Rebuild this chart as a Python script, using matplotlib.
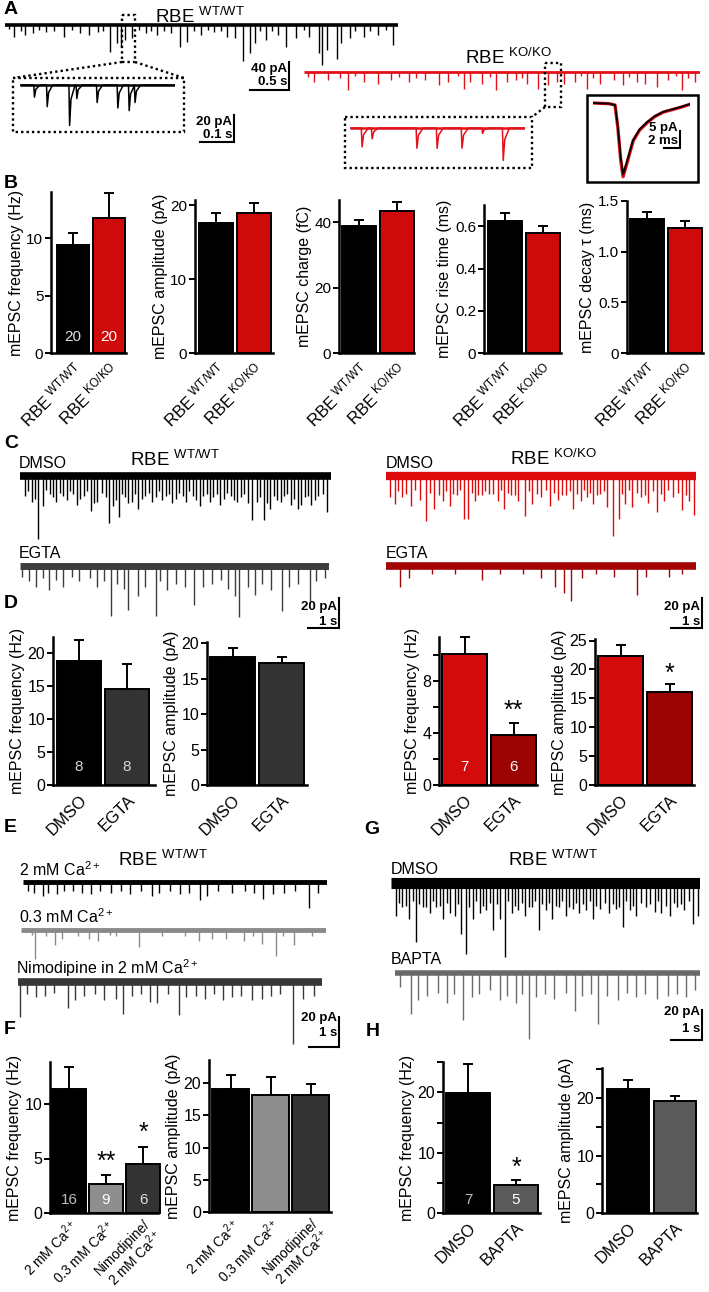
import numpy as np
import matplotlib
matplotlib.use("Agg")
import matplotlib.pyplot as plt
from matplotlib.patches import Rectangle

plt.rcParams['font.family'] = ['Liberation Sans', 'DejaVu Sans']
plt.rcParams['mathtext.fontset'] = 'custom'
plt.rcParams['mathtext.rm'] = 'Liberation Sans'
plt.rcParams['mathtext.it'] = 'Liberation Sans:italic'
plt.rcParams['mathtext.bf'] = 'Liberation Sans:bold'

# ---------------------------------------------------------------- data
WT = r"RBE $^{\mathregular{WT/WT}}$"
KO = r"RBE $^{\mathregular{KO/KO}}$"
CA = r"Ca$^{\mathregular{2+}}$"

geno_labels = [WT, KO]
drug_labels = ["DMSO", "EGTA"]
bapta_labels = ["DMSO", "BAPTA"]
ca_labels = ["2 mM " + CA, "0.3 mM " + CA, "Nimodipine/\n2 mM " + CA]

# B
b_freq = [9.4, 11.7];      b_freq_err = [1.0, 2.2]
b_amp = [17.6, 18.9];      b_amp_err = [1.3, 1.4]
b_charge = [38.8, 43.5];   b_charge_err = [1.9, 2.6]
b_rise = [0.627, 0.567];   b_rise_err = [0.036, 0.035]
b_decay = [1.32, 1.23];    b_decay_err = [0.07, 0.07]
b_n = [20, 20]
# D
d_wt_freq = [18.8, 14.5];  d_wt_freq_err = [3.1, 3.8]
d_wt_amp = [18.1, 17.2];   d_wt_amp_err = [1.25, 0.85]
d_ko_freq = [10.1, 3.85];  d_ko_freq_err = [1.3, 0.95]
d_ko_amp = [22.3, 16.1];   d_ko_amp_err = [1.85, 1.35]
d_wt_n = [8, 8]
d_ko_n = [7, 6]
# F
f_freq = [11.4, 2.7, 4.5]; f_freq_err = [2.0, 0.75, 1.55]
f_amp = [19.1, 18.2, 18.2]; f_amp_err = [2.1, 2.8, 1.6]
f_n = [16, 9, 6]
# H
h_freq = [19.9, 4.7];      h_freq_err = [4.8, 0.8]
h_amp = [21.6, 19.5];      h_amp_err = [1.5, 0.9]
h_n = [7, 5]

# traces: event times (s) and amplitudes (pA)
a_wt_t = [0.12, 0.26, 0.35, 0.52, 0.75, 0.95, 1.07, 1.18, 1.33, 1.43, 1.47, 1.53, 1.62, 1.79, 1.94,
          2.11, 2.23, 2.31, 2.49, 2.66, 2.83, 2.92, 3.03, 3.12, 3.18, 3.32, 3.47, 3.58, 3.70, 3.87,
          3.99, 4.03, 4.10, 4.22, 4.28, 4.39, 4.57, 4.74, 4.94,
          0.05, 0.20, 0.43, 0.62, 0.85, 1.25, 1.70, 1.86, 2.02, 2.40, 2.58, 2.75, 3.25, 3.40, 3.80,
          4.45, 4.65, 4.85]
a_wt_amp = [17, 14, 12, 10, 17, 12, 14, 10, 38, 26, 31, 21, 19, 12, 14,
            12, 31, 24, 14, 10, 17, 19, 52, 40, 26, 21, 14, 31, 19, 17,
            40, 57, 36, 48, 26, 19, 17, 14, 29,
            6, 8, 7, 9, 7, 8, 7, 8, 9, 8, 7, 9, 8, 9, 7,
            8, 9, 7]
a_ko_t = [0.13, 0.30, 0.56, 0.76, 0.93, 1.10, 1.33, 1.53, 1.70, 1.82, 2.02, 2.10, 2.25, 2.42, 2.56,
          2.68, 2.82, 2.96, 3.08, 3.19, 3.28, 3.42, 3.57, 3.74, 3.91, 4.03, 4.20, 4.31, 4.46, 4.60,
          4.77, 4.94,
          0.05, 0.45, 0.65, 1.20, 1.42, 1.95, 2.35, 2.75, 3.50, 3.65, 4.10, 4.70, 4.85]
a_ko_amp = [14, 12, 26, 14, 17, 12, 14, 12, 19, 14, 24, 14, 17, 26, 14,
            12, 17, 24, 19, 14, 17, 14, 24, 17, 12, 19, 14, 17, 21, 12,
            26, 14,
            7, 8, 6, 7, 8, 6, 7, 8, 6, 8, 7, 6, 8]
a_wt_zoom_t = [0.040, 0.077, 0.142, 0.163, 0.222, 0.282, 0.315, 0.332]
a_wt_zoom_amp = [9, 16, 30, 10, 13, 17, 19, 13]
a_ko_zoom_t = [0.029, 0.055, 0.170, 0.222, 0.286, 0.339, 0.392]
a_ko_zoom_amp = [14, 8, 15, 15, 15, 4, 24]
# averaged mEPSC (ms, pA)
avg_t = [0, 2.0, 2.75, 3.1, 3.45, 3.75, 4.2, 5.0, 5.8, 6.75, 7.7, 8.75, 10.9, 12.1]
avg_wt = [0, -0.2, -0.6, -7.0, -16.0, -21.0, -17.5, -10.9, -7.8, -5.6, -3.9, -2.6, -1.2, -0.3]
avg_ko = [0, -0.2, -0.6, -7.3, -16.6, -21.7, -18.0, -11.2, -8.0, -5.8, -4.0, -2.7, -1.3, -0.4]

c_wt_dmso_t = [0.15, 0.37, 0.59, 0.73, 0.95, 1.17, 1.39, 1.61, 1.83, 2.05, 2.27, 2.49, 2.64, 2.86, 3.00,
               3.18, 3.37, 3.59, 3.81, 4.03, 4.25, 4.47, 4.69, 4.90, 5.12, 5.34, 5.56, 5.78, 6.00, 6.22,
               6.44, 6.66, 6.88, 7.10, 7.32, 7.47, 7.61, 7.83, 8.05, 8.27, 8.49, 8.71, 8.93, 9.15, 9.37,
               9.59, 9.88,
               0.26, 0.48, 0.84, 1.06, 1.28, 1.50, 1.72, 1.94, 2.16, 2.38, 2.75, 3.09, 3.27, 3.48, 3.70,
               3.92, 4.14, 4.36, 4.58, 4.80, 5.01, 5.23, 5.45, 5.67, 5.89, 6.11, 6.33, 6.55, 6.77, 6.99,
               7.21, 7.72, 7.94, 8.16, 8.38, 8.60, 8.82, 9.04, 9.26, 9.48, 9.73]
c_wt_dmso_amp = [13, 17, 42, 20, 12, 17, 13, 10, 19, 13, 23, 17, 11, 31, 20,
                 27, 14, 17, 22, 13, 17, 10, 13, 18, 11, 17, 13, 20, 12, 14,
                 19, 11, 16, 14, 18, 29, 17, 29, 22, 16, 13, 19, 22, 14, 19,
                 13, 24,
                 10, 15, 9, 14, 11, 16, 12, 15, 10, 18, 14, 16, 12, 18, 12,
                 15, 11, 14, 16, 12, 15, 13, 10, 16, 13, 17, 12, 15, 13, 17,
                 12, 14, 18, 13, 17, 12, 15, 19, 13, 16, 12]
c_wt_egta_t = [0.07, 0.29, 0.51, 0.73, 0.95, 1.17, 1.39, 1.68, 1.90, 2.27, 2.49, 2.71, 2.93, 3.15, 3.37,
               3.51, 3.81, 4.03, 4.39, 4.54, 4.76, 5.05, 5.34, 5.64, 5.93, 6.22, 6.52, 6.73, 6.95, 7.10,
               7.39, 7.61, 7.83, 8.13, 8.49, 8.71, 9.00, 9.37, 9.59, 9.88]
c_wt_egta_amp = [7, 10, 14, 8, 16, 9, 14, 7, 10, 8, 14, 10, 33, 12, 15,
                 29, 20, 14, 33, 10, 16, 12, 14, 26, 14, 12, 9, 15, 20, 34,
                 14, 19, 12, 16, 30, 14, 12, 23, 10, 8]
c_ko_dmso_t = [0.12, 0.29, 0.51, 0.81, 1.10, 1.29, 1.54, 1.84, 2.06, 2.28, 2.50, 2.65, 2.87, 3.09, 3.31,
               3.60, 3.82, 4.04, 4.26, 4.49, 4.71, 5.00, 5.29, 5.56, 5.81, 6.03, 6.29, 6.47, 6.69, 6.91,
               7.13, 7.32, 7.50, 7.72, 7.94, 8.24, 8.46, 8.75, 8.97, 9.26, 9.56, 9.78, 9.93,
               0.40, 0.66, 0.95, 1.42, 1.70, 1.95, 2.17, 2.39, 2.76, 2.98, 3.20, 3.45, 3.71, 3.93,
               4.15, 4.60, 4.86, 5.15, 5.43, 5.69, 5.92, 6.16, 6.38, 6.58, 6.80, 7.02, 7.61, 7.83,
               8.09, 8.35, 8.60, 8.86, 9.11, 9.41, 9.67]
c_ko_dmso_amp = [14, 19, 14, 20, 16, 30, 22, 17, 20, 13, 29, 29, 17, 13, 12,
                 17, 22, 13, 17, 27, 19, 14, 20, 16, 13, 22, 17, 14, 19, 12,
                 21, 40, 29, 19, 21, 14, 18, 24, 17, 14, 23, 17, 26,
                 10, 12, 9, 11, 13, 10, 12, 9, 11, 13, 10, 12, 9, 11,
                 13, 10, 12, 9, 11, 13, 10, 12, 9, 11, 13, 10, 12, 9,
                 11, 13, 10, 12, 9, 11, 13]
c_ko_egta_t = [0.44, 0.74, 1.47, 2.21, 3.09, 3.68, 4.41, 5.00, 5.44, 5.74, 5.96, 6.32, 6.76, 7.35, 8.09,
               8.38, 9.12, 9.56]
c_ko_egta_amp = [14, 8, 5, 5, 9, 5, 5, 8, 14, 18, 23, 8, 5, 7, 19, 7, 7, 5]

e_2ca_t = [0.15, 0.37, 0.67, 0.82, 1.12, 1.34, 1.64, 1.94, 2.24, 2.54, 2.91, 3.21, 3.51, 3.88, 4.25,
           4.48, 4.85, 5.15, 5.45, 5.82, 6.04, 6.42, 6.87, 7.31, 7.61, 7.91, 8.21, 8.58, 8.96, 9.40, 9.70]
e_2ca_amp = [6, 7, 9, 7, 8, 6, 6, 7, 8, 6, 7, 6, 8, 6, 9,
             7, 6, 8, 7, 12, 9, 6, 7, 6, 7, 11, 8, 7, 6, 17, 7]
e_03ca_t = [0.37, 0.45, 0.82, 1.12, 1.34, 1.87, 2.24, 2.54, 2.91, 3.13, 3.88, 4.63, 5.37, 5.82, 6.27,
            6.72, 7.31, 7.61, 7.91, 8.36, 8.58, 8.96, 9.55]
e_03ca_amp = [3, 19, 4, 10, 6, 4, 6, 7, 3, 4, 11, 4, 4, 7, 6, 6, 7, 4, 9, 17, 4, 10, 4]
e_nimo_t = [0.07, 0.30, 0.60, 0.90, 1.20, 1.65, 1.87, 2.17, 2.54, 2.84, 3.22, 3.44, 3.74, 4.04, 4.34,
            4.57, 4.94, 5.31, 5.54, 5.84, 6.14, 6.44, 6.74, 7.04, 7.34, 7.71, 8.01, 8.31, 8.61, 9.06,
            9.36, 9.73]
e_nimo_amp = [23, 8, 10, 9, 7, 17, 12, 9, 8, 12, 11, 21, 9, 8, 13,
              14, 8, 22, 10, 9, 11, 8, 12, 10, 9, 12, 11, 9, 8, 41, 11, 9]
g_dmso_t = [0.15, 0.37, 0.59, 0.81, 1.03, 1.25, 1.47, 1.69, 1.91, 2.06, 2.28, 2.43, 2.65, 2.87, 3.09,
            3.31, 3.53, 3.68, 3.90, 4.12, 4.34, 4.56, 4.78, 5.00, 5.22, 5.44, 5.66, 5.88, 6.10, 6.32,
            6.54, 6.76, 7.06, 7.28, 7.50, 7.72, 7.94, 8.24, 8.53, 8.75, 9.04, 9.26, 9.49, 9.78, 9.93,
            0.26, 0.48, 0.70, 0.92, 1.14, 1.36, 1.58, 1.80, 2.17, 2.54, 2.76, 2.98, 3.20, 3.42, 3.79,
            4.01, 4.23, 4.45, 4.67, 4.89, 5.11, 5.33, 5.55, 5.77, 5.99, 6.21, 6.43, 6.65, 6.91, 7.17,
            7.39, 7.61, 7.83, 8.09, 8.38, 8.64, 8.90, 9.15, 9.38, 9.63]
g_dmso_amp = [22, 16, 24, 39, 16, 20, 16, 24, 20, 22, 34, 47, 24, 20, 18,
              31, 24, 49, 20, 18, 22, 16, 31, 18, 24, 16, 22, 17, 20, 18,
              24, 17, 20, 17, 29, 18, 22, 16, 19, 20, 22, 16, 18, 27, 22,
              13, 15, 12, 14, 16, 12, 15, 13, 14, 16, 12, 15, 13, 14, 12,
              15, 13, 16, 12, 14, 13, 15, 12, 16, 13, 14, 12, 15, 13, 14,
              16, 12, 15, 13, 14, 12, 15, 13, 14, 12]
g_bapta_t = [0.15, 0.52, 0.75, 1.04, 1.42, 1.72, 1.94, 2.24, 2.54, 2.76, 3.13, 3.43, 3.66, 3.96, 4.18,
             4.40, 4.63, 4.93, 5.22, 5.60, 5.90, 6.12, 6.42, 6.64, 6.94, 7.31, 7.61, 7.91, 8.21, 8.58,
             8.96, 9.25, 9.55, 9.85]
g_bapta_amp = [9, 27, 18, 15, 13, 20, 14, 31, 16, 14, 11, 18, 15, 20, 14,
               44, 16, 14, 17, 13, 25, 15, 14, 34, 15, 18, 13, 16, 14, 17,
               15, 14, 16, 11]

# ---------------------------------------------------------------- layout helpers
W, H = 709, 1292
fig = plt.figure(figsize=(W / 100, H / 100), dpi=100)


def px_axes(x0, y0, x1, y1):
    return fig.add_axes([x0 / W, 1 - y1 / H, (x1 - x0) / W, (y1 - y0) / H])


def trace(x0, x1, ybase, T, ppa, times, amps, color, band, ev_lw=1.0):
    down = max(amps) * ppa + 4
    up = 8
    ax = px_axes(x0, ybase - up, x1, ybase + down)
    ax.set_xlim(0, T)
    ax.set_ylim(-down / ppa, up / ppa)
    ax.axis('off')
    ax.plot([0, T], [0, 0], color=color, lw=band, solid_capstyle='butt')
    ax.vlines(times, -np.asarray(amps, float), 0, color=color, lw=ev_lw)
    return ax


def zoom_trace(x0, x1, ybase, T, ppa, times, amps, color):
    down = max(amps) * ppa + 4
    up = 6
    ax = px_axes(x0, ybase - up, x1, ybase + down)
    ax.set_xlim(0, T)
    ax.set_ylim(-down / ppa, up / ppa)
    ax.axis('off')
    xs, ys = [0.0], [0.0]
    for t, a in sorted(zip(times, amps)):
        xs += [t, t + 0.002, t + 0.006, t + 0.018]
        ys += [0, -a, -0.35 * a, 0]
    xs.append(T)
    ys.append(0)
    ax.plot(xs, ys, color=color, lw=1.1)
    ax.plot([0, T], [0, 0], color=color, lw=1.8, solid_capstyle='butt')
    return ax


def bar_panel(L, R, y0, ppu, top, b0, w, g, vals, errs, colors, ticks, ticklabels,
              ylabel, xlabels, ns=None, ncolors=None, n_off=14, stars=None, star_pad=14,
              xl_fs=12, tl_fs=11.5, yl_fs=11.5, xl_pad=5):
    ytop = y0 - top * ppu
    ax = px_axes(L, ytop, R, y0)
    u = w + g
    c0 = b0 + w / 2
    ax.set_xlim((L - c0) / u, (R - c0) / u)
    ax.set_ylim(0, top)
    n = len(vals)
    x = np.arange(n)
    ax.errorbar(x, vals, yerr=[np.zeros(n), errs], fmt='none', ecolor='k',
                elinewidth=1.4, capsize=3.5, capthick=1.4, zorder=1, clip_on=False)
    ax.bar(x, vals, width=w / u, color=colors, edgecolor='k', linewidth=1.4, zorder=2,
           clip_on=False)
    for s in ['top', 'right']:
        ax.spines[s].set_visible(False)
    ax.spines['left'].set_linewidth(1.8)
    ax.spines['bottom'].set_linewidth(1.8)
    ax.spines['left'].set_bounds(0, top)
    ax.set_yticks(ticks)
    ax.set_yticklabels(ticklabels)
    ax.tick_params(axis='y', direction='out', length=4, width=1.4, labelsize=tl_fs, pad=1.5)
    ax.set_xticks(x)
    ax.set_xticklabels(xlabels, rotation=45, ha='right', rotation_mode='anchor',
                       fontsize=xl_fs, multialignment='right', linespacing=0.95)
    ax.tick_params(axis='x', length=0, pad=xl_pad)
    ax.set_ylabel(ylabel, fontsize=yl_fs, labelpad=2)
    ax.patch.set_visible(False)
    if ns is not None:
        for i, (nv, c) in enumerate(zip(ns, ncolors)):
            ax.text(i, n_off / ppu, str(nv), ha='center', va='center', color=c,
                    fontsize=11, zorder=3)
    if stars is not None:
        for i, s in enumerate(stars):
            if s:
                ax.text(i, vals[i] + errs[i] + star_pad / ppu, s, ha='center', va='center',
                        fontsize=18, zorder=3)
    return ax


# ---------------------------------------------------------------- A traces
trace(5, 398, 25, 5.0, 0.7, a_wt_t, a_wt_amp, 'black', 2.6)
trace(304, 700, 72, 5.0, 0.7, a_ko_t, a_ko_amp, '#e3121a', 2.0)
zoom_trace(20, 175, 85, 0.45, 1.35, a_wt_zoom_t, a_wt_zoom_amp, 'black')
zoom_trace(350, 525, 128, 0.45, 1.35, a_ko_zoom_t, a_ko_zoom_amp, '#e3121a')

AVG_X0, AVG_X1, AVG_BASE, AVG_PPA = 593, 690, 103, 3.4
avg_ax = px_axes(AVG_X0, 96, AVG_X1, 181)
avg_ax.set_xlim(0, avg_t[-1])
avg_ax.set_ylim(-(181 - AVG_BASE) / AVG_PPA, (AVG_BASE - 96) / AVG_PPA)
avg_ax.axis('off')
avg_ax.plot(avg_t, avg_ko, color='#e3121a', lw=2.4)
avg_ax.plot(avg_t, avg_wt, color='black', lw=1.3)

# ---------------------------------------------------------------- B bars
red = '#cf0a0a'
bkw = dict(xl_fs=12, tl_fs=11, yl_fs=11.5)
bar_panel(51, 126, 353, 11.5, 14.0, 57, 32, 4, b_freq, b_freq_err, ['black', red],
          [0, 5, 10], ['0', '5', '10'], 'mEPSC frequency (Hz)', geno_labels,
          ns=b_n, ncolors=['#e0e0e0', 'white'], n_off=16, **bkw)
bar_panel(195, 273, 353, 7.4, 20.7, 199, 34, 4, b_amp, b_amp_err, ['black', red],
          [0, 10, 20], ['0', '10', '20'], 'mEPSC amplitude (pA)', geno_labels, **bkw)
bar_panel(339, 414, 353, 3.27, 46.8, 342, 34, 4, b_charge, b_charge_err, ['black', red],
          [0, 20, 40], ['0', '20', '40'], 'mEPSC charge (fC)', geno_labels, **bkw)
bar_panel(484, 561, 353, 211.0, 0.70, 488, 34, 4, b_rise, b_rise_err, ['black', red],
          [0, 0.2, 0.4, 0.6], ['0', '0.2', '0.4', '0.6'], 'mEPSC rise time (ms)', geno_labels,
          **bkw)
bar_panel(627, 703, 353, 101.4, 1.5, 630, 34, 4, b_decay, b_decay_err, ['black', red],
          [0, 0.5, 1.0, 1.5], ['0', '0.5', '1.0', '1.5'], 'mEPSC decay τ (ms)', geno_labels,
          **bkw)

# ---------------------------------------------------------------- C traces
trace(20, 331, 476, 10.0, 1.5, c_wt_dmso_t, c_wt_dmso_amp, 'black', 5.5)
trace(20, 329, 566, 10.0, 1.5, c_wt_egta_t, c_wt_egta_amp, '#3d3d3d', 5.0)
trace(386, 696, 476, 10.0, 1.5, c_ko_dmso_t, c_ko_dmso_amp, '#dd0b0b', 6.0)
trace(386, 696, 566, 10.0, 1.5, c_ko_egta_t, c_ko_egta_amp, '#a30505', 5.5)

# ---------------------------------------------------------------- D bars
ko_red, ko_dark = '#d40b0b', '#9c0303'
bar_panel(53, 155, 785, 6.6, 22.4, 57, 44, 4, d_wt_freq, d_wt_freq_err, ['black', '#333333'],
          [0, 5, 10, 15, 20], ['0', '5', '10', '15', '20'], 'mEPSC frequency (Hz)', drug_labels,
          ns=d_wt_n, ncolors=['#d8d8d8', '#d8d8d8'], n_off=18)
bar_panel(207, 307, 785, 7.08, 20.2, 210, 45, 4, d_wt_amp, d_wt_amp_err, ['black', '#333333'],
          [0, 5, 10, 15, 20], ['0', '5', '10', '15', '20'], 'mEPSC amplitude (pA)', drug_labels)
bar_panel(439, 537, 785, 13.0, 11.4, 442, 45, 4, d_ko_freq, d_ko_freq_err, [ko_red, ko_dark],
          [0, 2, 4, 6, 8, 10], ['0', '', '4', '', '8', ''], 'mEPSC frequency (Hz)', drug_labels,
          ns=d_ko_n, ncolors=['white', 'white'], n_off=18, stars=['', '**'], star_pad=12)
bar_panel(595, 694, 785, 5.78, 25.2, 598, 45, 4, d_ko_amp, d_ko_amp_err, [ko_red, ko_dark],
          [0, 5, 10, 15, 20, 25], ['0', '5', '10', '15', '20', '25'], 'mEPSC amplitude (pA)',
          drug_labels, stars=['', '*'], star_pad=10)

# ---------------------------------------------------------------- E / G traces
trace(23, 327, 882, 10.0, 1.5, e_2ca_t, e_2ca_amp, 'black', 3.5)
trace(21, 326, 930, 10.0, 1.5, e_03ca_t, e_03ca_amp, '#8a8a8a', 3.5)
trace(18, 322, 982, 10.0, 1.5, e_nimo_t, e_nimo_amp, '#383838', 5.5)
trace(391, 700, 883, 10.0, 1.5, g_dmso_t, g_dmso_amp, 'black', 8.0)
trace(395, 700, 973, 10.0, 1.5, g_bapta_t, g_bapta_amp, '#6a6a6a', 4.0)

# ---------------------------------------------------------------- F / H bars
bar_panel(50, 158, 1213, 10.9, 13.85, 52, 34, 3, f_freq, f_freq_err,
          ['black', '#8e8e8e', '#333333'], [0, 5, 10], ['0', '5', '10'],
          'mEPSC frequency (Hz)', ca_labels, ns=f_n, ncolors=['#bdbdbd', 'white', '#dddddd'],
          n_off=13, stars=['', '**', '*'], star_pad=14, xl_fs=9.8, xl_pad=3)
bar_panel(209, 331, 1212, 6.45, 23.6, 212, 37, 3, f_amp, f_amp_err,
          ['black', '#8e8e8e', '#333333'], [0, 5, 10, 15, 20], ['0', '5', '10', '15', '20'],
          'mEPSC amplitude (pA)', ca_labels, xl_fs=9.8, xl_pad=3)
bar_panel(443, 540, 1213, 6.03, 25.0, 446, 44, 4, h_freq, h_freq_err, ['black', '#5a5a5a'],
          [0, 5, 10, 15, 20, 25], ['0', '', '10', '', '20', ''], 'mEPSC frequency (Hz)',
          bapta_labels, ns=h_n, ncolors=['#bdbdbd', 'white'], n_off=13, stars=['', '*'],
          star_pad=12)
bar_panel(602, 697, 1213, 5.75, 25.2, 607, 42, 5, h_amp, h_amp_err, ['black', '#5a5a5a'],
          [0, 5, 10, 15, 20, 25], ['0', '', '10', '', '20', ''], 'mEPSC amplitude (pA)',
          bapta_labels)

# ---------------------------------------------------------------- overlay: labels, boxes, scale bars
ov = fig.add_axes([0, 0, 1, 1])
ov.set_xlim(0, W)
ov.set_ylim(H, 0)
ov.axis('off')

dot = dict(color='black', lw=1.7, ls=(0, (1, 1.3)))
for (x0, y0, x1, y1) in [(122, 15, 135, 62), (13, 78, 184, 132), (545, 63, 561, 107),
                         (345, 117, 532, 168)]:
    ov.add_patch(Rectangle((x0, y0), x1 - x0, y1 - y0, fill=False, **dot))
ov.plot([122, 13], [62, 78], **dot)
ov.plot([135, 184], [62, 78], **dot)
ov.plot([545, 532], [107, 117], **dot)
ov.add_patch(Rectangle((587, 95), 111, 87, fill=False, color='black', lw=1.8))


def scalebar(xr, yb, len_x, len_y, t1, t2, fs=9.5, t1_dy=8, t2_dy=-7):
    ov.plot([xr - len_x, xr, xr], [yb, yb, yb - len_y], color='black', lw=1.5,
            solid_joinstyle='miter')
    ov.text(xr - 2, yb - len_y + t1_dy, t1, ha='right', va='center', fontsize=fs,
            fontweight='bold')
    ov.text(xr - 2, yb + t2_dy, t2, ha='right', va='center', fontsize=fs, fontweight='bold')


scalebar(289, 90, 0.5 * 393 / 5.0, 40 * 0.7, '40 pA', '0.5 s', t1_dy=7, t2_dy=-8)
scalebar(234, 142, 0.1 * 155 / 0.45, 20 * 1.35, '20 pA', '0.1 s', t1_dy=7, t2_dy=-7)
scalebar(680, 148, 2 * (AVG_X1 - AVG_X0) / avg_t[-1], 5 * AVG_PPA, '5 pA', '2 ms', fs=9.5,
         t1_dy=-3, t2_dy=-7)
scalebar(339, 628, 31, 20 * 1.5, '20 pA', '1 s', t1_dy=9, t2_dy=-6)
scalebar(702, 628, 31, 20 * 1.5, '20 pA', '1 s', t1_dy=9, t2_dy=-6)
scalebar(339, 1047, 30.5, 20 * 1.5, '20 pA', '1 s', t1_dy=1, t2_dy=-14)
scalebar(702, 1040, 31, 20 * 1.5, '20 pA', '1 s', t1_dy=2, t2_dy=-11)

for lab, x, y in [('A', 4, 9), ('B', 4, 183), ('C', 4, 444), ('D', 4, 603), ('E', 4, 828),
                  ('G', 364, 830), ('F', 4, 1030), ('H', 366, 1032)]:
    ov.text(x, y, lab, ha='left', va='center', fontsize=14, fontweight='bold')

ttl = 13.5
ov.text(200, 17, WT, ha='center', va='center', fontsize=ttl)
ov.text(508, 58, KO, ha='center', va='center', fontsize=ttl)
ov.text(175, 460, WT, ha='center', va='center', fontsize=ttl)
ov.text(553, 459, KO, ha='center', va='center', fontsize=ttl)
ov.text(163, 860, WT, ha='center', va='center', fontsize=ttl)
ov.text(553, 860, WT, ha='center', va='center', fontsize=ttl)

lf = 11.5
for txt, x, y in [('DMSO', 19, 463), ('EGTA', 19, 553), ('DMSO', 386, 463), ('EGTA', 386, 553),
                  ('2 mM ' + CA, 19, 870), ('0.3 mM ' + CA, 19, 917),
                  ('Nimodipine in 2 mM ' + CA, 16, 968), ('DMSO', 391, 870),
                  ('BAPTA', 391, 960)]:
    ov.text(x, y, txt, ha='left', va='center', fontsize=lf)

fig.savefig('out.png', dpi=100)
